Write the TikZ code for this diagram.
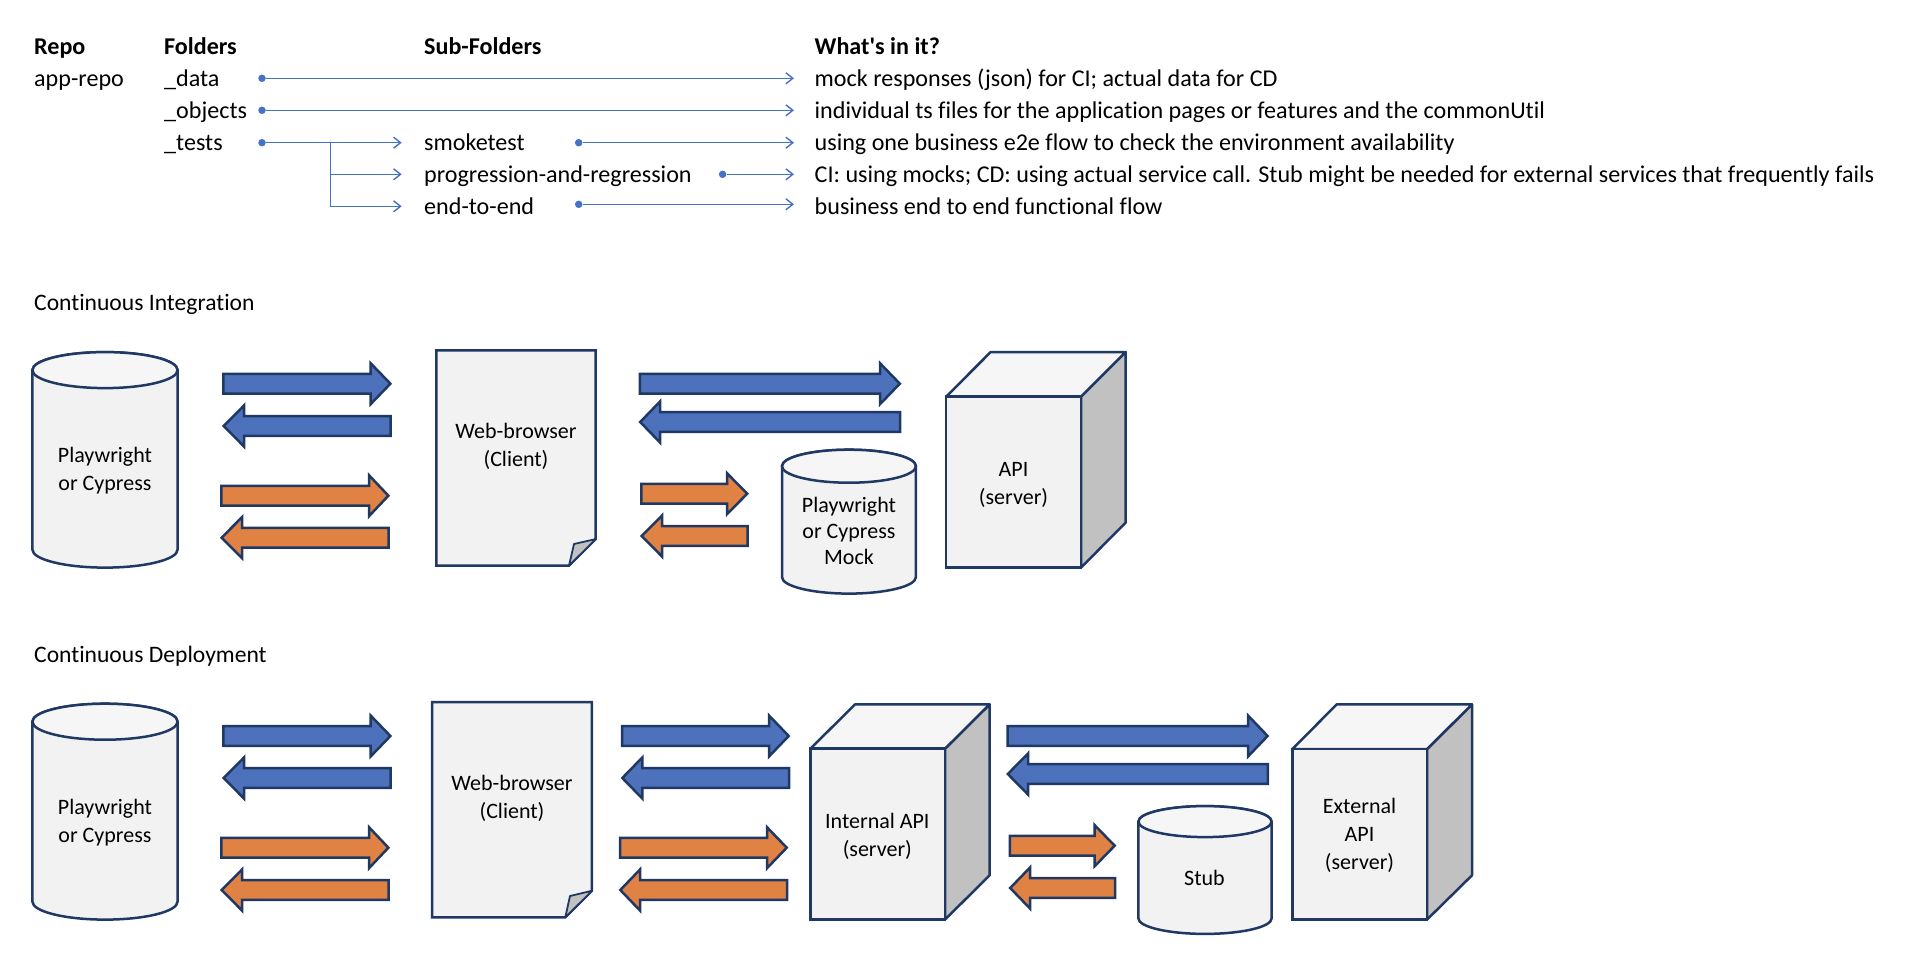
\documentclass[tikz,border=0pt]{standalone}
\usepackage{fontspec}
\setmainfont[Ligatures={NoCommon}]{Carlito}
\usetikzlibrary{arrows.meta}
\definecolor{linkblue}{HTML}{4472C4}
\definecolor{outline}{HTML}{203864}
\definecolor{bluefill}{HTML}{4E71BC}
\definecolor{orangefill}{HTML}{DF8244}
\definecolor{shapefill}{HTML}{F2F2F2}
\definecolor{topfill}{HTML}{F6F6F6}
\definecolor{sidefill}{HTML}{C1C1C1}
\tikzset{
  txt/.style={anchor=base west,inner sep=0pt,font=\fontsize{24.1}{30}\selectfont,text=black},
  hdr/.style={txt,font=\fontsize{24.1}{30}\selectfont\bfseries},
  sect/.style={txt,font=\fontsize{23.6}{30}\selectfont},
  lab/.style={align=center,inner sep=0pt,font=\fontsize{22}{28}\selectfont,text=black},
  dotmark/.style={circle,fill=linkblue,inner sep=0pt,minimum size=7.5pt},
  link/.style={draw=linkblue,line width=1.4pt,-{Straight Barb[length=7pt,width=11pt]}},
  shapeline/.style={draw=outline,line width=2.5pt,line join=miter},
  cubeline/.style={draw=outline,line width=2.5pt,line join=round},
  bluearrow/.style={shapeline,fill=bluefill},
  orangearrow/.style={shapeline,fill=orangefill},
}
% right block arrow: x-left, x-right, y, head start
\newcommand{\rarrow}[5]{\draw[#1] (#2+.3,#4-9.8) -- (#5,#4-9.8) -- (#5,#4-20.5) -- (#3-.6,#4) -- (#5,#4+20.5) -- (#5,#4+9.8) -- (#2+.3,#4+9.8) -- cycle;}
% left block arrow: x-left, x-right, y, neck
\newcommand{\larrow}[5]{\draw[#1] (#3-.3,#4-9.8) -- (#5,#4-9.8) -- (#5,#4-20.5) -- (#2+.6,#4) -- (#5,#4+20.5) -- (#5,#4+9.8) -- (#3-.3,#4+9.8) -- cycle;}
% cylinder: xl, xr, top, bottom, ry
\newcommand{\cylshape}[5]{%
  \pgfmathsetmacro{\cxa}{#1+.4}\pgfmathsetmacro{\cxb}{#2-.4}%
  \pgfmathsetmacro{\crx}{(#2-#1)/2-.4}%
  \pgfmathsetmacro{\cyt}{#3+.4+#5}\pgfmathsetmacro{\cyb}{#4-.4-#5}%
  \draw[shapeline,fill=shapefill] (\cxa,\cyt) -- (\cxa,\cyb) arc[start angle=180,end angle=360,x radius=\crx pt,y radius=#5 pt] -- (\cxb,\cyt) arc[start angle=0,end angle=180,x radius=\crx pt,y radius=#5 pt] -- cycle;
  \draw[shapeline,fill=topfill] (\cxa,\cyt) arc[start angle=180,end angle=540,x radius=\crx pt,y radius=#5 pt] -- cycle;}
% cube: front x1 x2 y1 y2; back x1 x2 y1 y2
\newcommand{\cubeshape}[8]{%
  \draw[cubeline,fill=sidefill] (#2,#3) -- (#6-.4,#7+.4) -- (#6-.4,#8) -- (#2,#4-.4) -- cycle;
  \draw[cubeline,fill=topfill] (#1+.4,#3) -- (#5,#7+.4) -- (#6-.4,#7+.4) -- (#2,#3) -- cycle;
  \draw[cubeline,line join=miter,fill=shapefill] (#1+.4,#3) rectangle (#2,#4-.4);}
% page: x1 x2 y1 y2 foldx foldy innerx innery
\newcommand{\pageshape}[8]{%
  \draw[shapeline,fill=shapefill] (#1+.4,#3+.4) -- (#2-.4,#3+.4) -- (#2-.4,#6) -- (#5,#4-.4) -- (#1+.4,#4-.4) -- cycle;
  \draw[draw=outline,line width=1.8pt,fill=sidefill,line join=round] (#5,#4-.4) -- (#7,#8) -- (#2,#6) -- cycle;}

\begin{document}
\begin{tikzpicture}[x=1pt,y=-1pt]
\useasboundingbox (0,0) rectangle (1916,974);

% table text
\node[hdr] (hrepo) at (34,54.5) {Repo};
\node[hdr] (hfold) at (164,54.5) {Folders};
\node[hdr] (hsub) at (424,54.5) {Sub-Folders};
\node[hdr] (hwhat) at (814.5,54.5) {What\textquotesingle s in it?};
\node[txt] (repo) at (34,86) {app-repo};
\node[txt] (fdata) at (164,86) {\_data};
\node[txt] (fobj) at (164,118) {\_objects};
\node[txt] (ftests) at (164,150) {\_tests};
\node[txt] (smoke) at (424,150) {smoketest};
\node[txt] (prog) at (424,182) {progression-and-regression};
\node[txt] (e2e) at (424,214) {end-to-end};
\node[txt] (w1) at (814.5,86) {mock responses (json) for CI; actual data for CD};
\node[txt] (w2) at (814.5,118) {individual ts files for the application pages or features and the commonUtil};
\node[txt] (w3) at (814.5,150) {using one business e2e flow to check the environment availability};
\node[txt] (w4) at (814.5,182) {CI: using mocks; CD: using actual service call. Stub might be needed for external services that frequently fails};
\node[txt] (w5) at (814.5,214) {business end to end functional flow};
\node[sect] (ci) at (34,310) {Continuous Integration};
\node[sect] (cd) at (34,662) {Continuous Deployment};

% connectors
\node[dotmark] (d1) at (262,78.3) {};
\node[dotmark] (d2) at (262,110.3) {};
\node[dotmark] (d3) at (262,142.7) {};
\node[dotmark] (d4) at (578.7,142.7) {};
\node[dotmark] (d5) at (722.6,174.3) {};
\node[dotmark] (d6) at (578.7,204.3) {};
\coordinate (e1) at (794,78.3);
\coordinate (e2) at (794,110.3);
\coordinate (e3) at (794,142.7);
\coordinate (e4) at (794,174.3);
\coordinate (e5) at (794,204.3);
\coordinate (a1) at (401.7,142.7);
\coordinate (a2) at (401.7,174.3);
\coordinate (a3) at (401.7,206.3);
\coordinate (j) at (330.7,142.7);
\draw[link] (d1) -- (e1);
\draw[link] (d2) -- (e2);
\draw[link] (d3) -- (a1);
\draw[link] (j) |- (a2);
\draw[link] (j) |- (a3);
\draw[link] (d4) -- (e3);
\draw[link] (d5) -- (e4);
\draw[link] (d6) -- (e5);

% Continuous Integration
\cylshape{32}{178}{351.7}{568}{18}
\node[lab] (ciPw) at (105,471.2) {\strut Playwright\\\strut or Cypress};
\rarrow{bluearrow}{223}{391}{383.7}{370.6}
\larrow{bluearrow}{223}{391}{426}{244}
\rarrow{orangearrow}{221}{389}{495.7}{369}
\larrow{orangearrow}{221}{389}{537.7}{242}
\pageshape{436}{596}{350}{566}{569}{539}{574}{544}
\node[lab] (ciWeb) at (516,446.7) {\strut Web-browser\\\strut (Client)};
\rarrow{bluearrow}{639.6}{900.4}{383.7}{880}
\larrow{bluearrow}{639.6}{900.4}{422}{660}
\rarrow{orangearrow}{641}{747.8}{493.7}{727}
\larrow{orangearrow}{641}{747.8}{536}{662}
\cylshape{781.6}{916.3}{449.3}{594}{16.5}
\node[lab] (ciMock) at (849,533) {\strut Playwright\\[-2pt]\strut or Cypress\\[-2pt]\strut Mock};
\cubeshape{945.7}{1081}{396.7}{568}{990.6}{1126}{351.7}{522.7}
\node[lab] (ciApi) at (1013.5,484.7) {\strut API\\\strut (server)};

% Continuous Deployment
\cylshape{32}{178}{703.3}{920}{18}
\node[lab] (cdPw) at (105,823.2) {\strut Playwright\\\strut or Cypress};
\rarrow{bluearrow}{223}{391}{736}{370.6}
\larrow{bluearrow}{223}{391}{778}{244}
\rarrow{orangearrow}{221}{389}{847.7}{369}
\larrow{orangearrow}{221}{389}{890}{242}
\pageshape{431.8}{592.2}{701.7}{917.7}{565.3}{890.7}{570}{896}
\node[lab] (cdWeb) at (512,798.7) {\strut Web-browser\\\strut (Client)};
\rarrow{bluearrow}{621.7}{789.3}{736}{769}
\larrow{bluearrow}{621.7}{789.3}{778}{642.3}
\rarrow{orangearrow}{619.7}{787.3}{847.7}{767}
\larrow{orangearrow}{619.7}{787.3}{890}{640}
\cubeshape{810}{945}{748.7}{920}{855}{990}{704}{875.3}
\node[lab] (cdApi) at (877.3,836.7) {\strut Internal API\\\strut (server)};
\rarrow{bluearrow}{1007.2}{1268.2}{736}{1248}
\larrow{bluearrow}{1007.2}{1268.2}{774}{1028}
\rarrow{orangearrow}{1009.6}{1115.3}{845.7}{1094.7}
\larrow{orangearrow}{1009.6}{1115.3}{888}{1030}
\cylshape{1138}{1272}{805.7}{934.3}{15.5}
\node[lab] (cdStub) at (1204.5,879.7) {\strut Stub};
\cubeshape{1292}{1427}{749}{920}{1336.7}{1472.4}{704}{875.3}
\node[lab] (cdExt) at (1359.5,836.3) {\strut External\\\strut API\\\strut (server)};
\end{tikzpicture}
\end{document}
